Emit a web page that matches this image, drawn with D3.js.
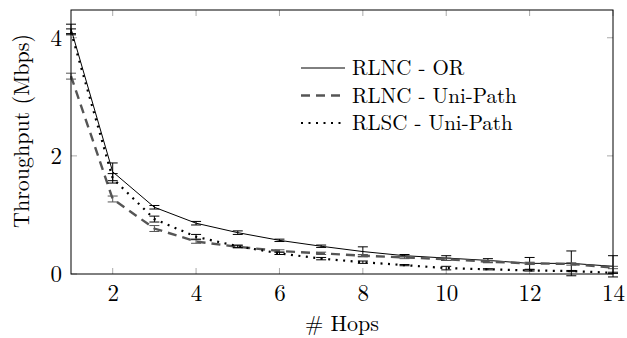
<!DOCTYPE html>
<html><head><meta charset="utf-8">
<script src="https://cdn.jsdelivr.net/npm/d3@7"></script>
<style>
body{margin:0;background:#fff;}
svg{display:block;}
</style></head>
<body>
<script>
const hops = [1,2,3,4,5,6,7,8,9,10,11,12,13,14];
const orMean   = [4.15,1.73,1.13,0.86,0.70,0.57,0.47,0.38,0.31,0.27,0.23,0.18,0.18,0.13];
const orErr    = [0.08,0.15,0.03,0.03,0.03,0.02,0.02,0.08,0.02,0.04,0.03,0.10,0.21,0.18];
const uniMean  = [3.35,1.27,0.77,0.55,0.46,0.39,0.35,0.31,0.28,0.25,0.21,0.18,0.17,0.11];
const uniErr   = [0.05,0.05,0.05,0.03,0.02,0.02,0.02,0.02,0.02,0.02,0.02,0.02,0.02,0.02];
const rlscMean = [4.10,1.62,0.93,0.63,0.47,0.35,0.26,0.20,0.15,0.10,0.08,0.06,0.05,0.02];
const rlscErr  = [0.05,0.08,0.05,0.04,0.02,0.02,0.02,0.02,0.01,0.03,0.01,0.01,0.01,0.01];
const seriesNames = ["RLNC - OR","RLNC - Uni-Path","RLSC - Uni-Path"];
const xTicks = [2,4,6,8,10,12,14];
const yTicks = [0,2,4];

const W=627,H=338;
const m={l:71,r:14,t:10,b:64};
const FONT="'Latin Modern Roman','Liberation Serif',serif";
const svg=d3.select("body").append("svg").attr("width",W).attr("height",H);
const x=d3.scaleLinear().domain([1,14]).range([m.l,W-m.r]);
const y=d3.scaleLinear().domain([0,4.47]).range([H-m.b,m.t]);

const styles=[
 {stroke:"#000",w:1,dash:null,cap:"butt"},
 {stroke:"#555",w:2.4,dash:"9,6",cap:"butt"},
 {stroke:"#000",w:2.2,dash:"2,5.5",cap:"butt"}
];
const series=[
 {name:seriesNames[0],mean:orMean,err:orErr},
 {name:seriesNames[1],mean:uniMean,err:uniErr},
 {name:seriesNames[2],mean:rlscMean,err:rlscErr}
];

// ticks inside, on all four sides
const tickLen=6;
const g=svg.append("g");
xTicks.forEach(t=>{
  g.append("line").attr("x1",x(t)).attr("x2",x(t)).attr("y1",y(0)).attr("y2",y(0)-tickLen).attr("stroke","#aaa").attr("stroke-width",1);
  g.append("line").attr("x1",x(t)).attr("x2",x(t)).attr("y1",m.t).attr("y2",m.t+tickLen).attr("stroke","#aaa").attr("stroke-width",1);
});
yTicks.forEach(t=>{
  g.append("line").attr("x1",m.l).attr("x2",m.l+tickLen).attr("y1",y(t)).attr("y2",y(t)).attr("stroke","#aaa").attr("stroke-width",1);
  g.append("line").attr("x1",W-m.r).attr("x2",W-m.r-tickLen).attr("y1",y(t)).attr("y2",y(t)).attr("stroke","#aaa").attr("stroke-width",1);
});

// axes labels via d3 axes (no lines)
const xAxis=svg.append("g").attr("transform",`translate(0,${y(0)})`)
 .call(d3.axisBottom(x).tickValues(xTicks).tickFormat(d3.format("d")).tickSize(0));
xAxis.select(".domain").remove();
xAxis.selectAll("text").attr("y",27).attr("dy",0).style("font-family",FONT).style("font-size","23px").style("fill","#000");
const yAxis=svg.append("g").attr("transform",`translate(${m.l},0)`)
 .call(d3.axisLeft(y).tickValues(yTicks).tickFormat(d3.format("d")).tickSize(0));
yAxis.select(".domain").remove();
yAxis.selectAll("text").attr("x",-9).attr("dy","0.34em").style("font-family",FONT).style("font-size","23px").style("fill","#000");

// data
const line=d3.line().x((d,i)=>x(hops[i])).y(d=>y(d));
series.forEach((s,k)=>{
  const st=styles[k];
  const eg=svg.append("g");
  hops.forEach((h,i)=>{
    const cx=x(h),y1=y(s.mean[i]-s.err[i]),y2=y(s.mean[i]+s.err[i]);
    eg.append("line").attr("x1",cx).attr("x2",cx).attr("y1",y1).attr("y2",y2).attr("stroke",st.stroke).attr("stroke-width",1);
    [y1,y2].forEach(yy=>eg.append("line").attr("x1",cx-5).attr("x2",cx+5).attr("y1",yy).attr("y2",yy).attr("stroke",st.stroke).attr("stroke-width",1));
  });
  svg.append("path").datum(s.mean).attr("d",line).attr("fill","none")
    .attr("stroke",st.stroke).attr("stroke-width",st.w).attr("stroke-dasharray",st.dash).attr("stroke-linecap",st.cap);
});

// frame
svg.append("rect").attr("x",m.l).attr("y",m.t).attr("width",W-m.r-m.l).attr("height",H-m.b-m.t)
  .attr("fill","none").attr("stroke","#000").attr("stroke-width",1);

// legend
const lg=svg.append("g");
series.forEach((s,k)=>{
  const st=styles[k];
  const yy=68+k*27.5;
  lg.append("line").attr("x1",301).attr("x2",345).attr("y1",yy).attr("y2",yy)
    .attr("stroke",st.stroke).attr("stroke-width",st.w).attr("stroke-dasharray",st.dash).attr("stroke-linecap",st.cap);
  lg.append("text").attr("x",352).attr("y",yy+7).style("font-family",FONT).style("font-size","21px").text(s.name);
});

// axis titles
svg.append("text").attr("x",x(7.5)).attr("y",331).attr("text-anchor","middle").style("font-family",FONT).style("font-size","22px").text("# Hops");
svg.append("text").attr("transform",`translate(29,${(m.t+y(0))/2-11}) rotate(-90)`).attr("text-anchor","middle").style("font-family",FONT).style("font-size","22px").text("Throughput (Mbps)");
</script>
</body></html>
